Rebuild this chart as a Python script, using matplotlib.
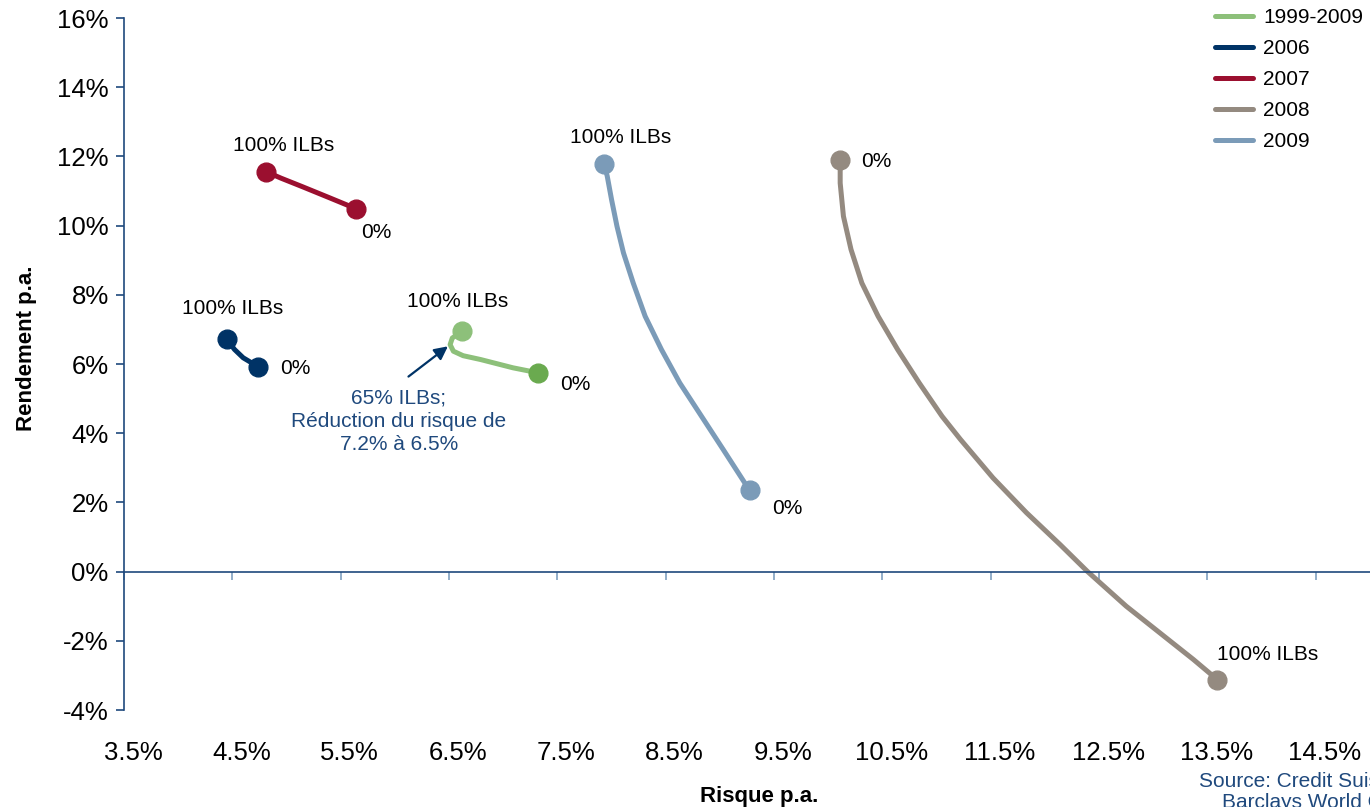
import matplotlib.pyplot as plt
from matplotlib import transforms

plt.rcParams['font.family'] = ['Liberation Sans', 'DejaVu Sans']

# risk / return (% p.a.) along each frontier, from 100% ILBs down to 0% ILBs
labels = ['1999-2009', '2006', '2007', '2008', '2009']

risk_9909 = [6.62, 6.53, 6.51, 6.54, 6.63, 6.79, 6.94, 7.09, 7.25, 7.32]
ret_9909 = [6.95, 6.75, 6.56, 6.37, 6.24, 6.13, 6.01, 5.89, 5.79, 5.74]

risk_2006 = [4.45, 4.52, 4.60, 4.68, 4.74]
ret_2006 = [6.71, 6.42, 6.18, 6.03, 5.90]

risk_2007 = [4.81, 4.95, 5.15, 5.40, 5.64]
ret_2007 = [11.56, 11.37, 11.12, 10.80, 10.49]

risk_2008 = [13.59, 13.37, 13.06, 12.75, 12.39, 12.14, 11.83, 11.52, 11.22, 11.05,
             10.84, 10.64, 10.46, 10.31, 10.21, 10.14, 10.11, 10.11]
ret_2008 = [-3.12, -2.54, -1.77, -1.00, 0.01, 0.78, 1.70, 2.71, 3.82, 4.49,
            5.45, 6.42, 7.38, 8.34, 9.31, 10.27, 11.23, 11.89]

risk_2009 = [7.93, 7.96, 8.00, 8.05, 8.11, 8.20, 8.31, 8.46, 8.63, 8.83, 9.03, 9.23, 9.28]
ret_2009 = [11.79, 11.43, 10.75, 9.98, 9.21, 8.34, 7.38, 6.42, 5.45, 4.49, 3.53, 2.56, 2.35]

x_ticks = [3.5, 4.5, 5.5, 6.5, 7.5, 8.5, 9.5, 10.5, 11.5, 12.5, 13.5, 14.5]
y_ticks = [-4, -2, 0, 2, 4, 6, 8, 10, 12, 14, 16]

navy = '#1f497d'
series = [
    (risk_9909, ret_9909, '#8dc07a', '#8dc07a', '#6aaa4f'),
    (risk_2006, ret_2006, '#003366', '#003366', '#003366'),
    (risk_2007, ret_2007, '#9b0f2f', '#9b0f2f', '#9b0f2f'),
    (risk_2008, ret_2008, '#948a80', '#948a80', '#948a80'),
    (risk_2009, ret_2009, '#7b9bb8', '#7b9bb8', '#7b9bb8'),
]
# label offsets in points: (100% ILBs end, 0% end)
offsets = [
    ((-3, 21, 'center'), (16, -8, 'left')),
    ((4, 22, 'center'), (16, -1, 'left')),
    ((13, 19, 'center'), (4, -17, 'left')),
    ((0, 18, 'left'), (15, -1, 'left')),
    ((12, 19, 'center'), (16, -13, 'left')),
]

fig = plt.figure(figsize=(13.7, 8.07), dpi=100)
ax = fig.add_axes([124 / 1370, 97 / 807, 1246 / 1370, 692 / 807])

for (xs, ys, col, c_start, c_end), name, (o100, o0) in zip(series, labels, offsets):
    ax.plot(xs, ys, color=col, lw=3.6, solid_capstyle='round', solid_joinstyle='round',
            label=name, zorder=2)
    ax.plot(xs[0], ys[0], 'o', color=c_start, ms=13.5, zorder=3)
    ax.plot(xs[-1], ys[-1], 'o', color=c_end, ms=13.5, zorder=3)
    ax.annotate('100% ILBs', (xs[0], ys[0]), xytext=o100[:2], textcoords='offset points',
                ha=o100[2], va='center', fontsize=15)
    ax.annotate('0%', (xs[-1], ys[-1]), xytext=o0[:2], textcoords='offset points',
                ha=o0[2], va='center', fontsize=15)

# arrow to the minimum-risk mix on the long-run frontier
ax.annotate('', xy=(risk_9909[2], ret_9909[2]), xytext=(-30, -23), textcoords='offset points',
            arrowprops=dict(arrowstyle='-|>', color='#003366', lw=1.6, mutation_scale=20,
                            shrinkA=0, shrinkB=2))
ax.annotate('65% ILBs;\nRéduction du risque de\n7.2% à 6.5%', (risk_9909[2], ret_9909[2]),
            xytext=(-37, -55), textcoords='offset points', ha='center', va='center',
            fontsize=15, color=navy, linespacing=1.3)

ax.set_xlim(3.5, 15.0)
ax.set_ylim(-4, 16)

for s in ['top', 'right']:
    ax.spines[s].set_visible(False)
ax.spines['left'].set_color(navy)
ax.spines['left'].set_linewidth(1.2)
ax.spines['bottom'].set_position(('data', 0))
ax.spines['bottom'].set_color(navy)
ax.spines['bottom'].set_linewidth(1.2)

ax.set_yticks(y_ticks, [f'{v}%' for v in y_ticks])
ax.tick_params(axis='y', direction='out', length=6, width=1.2, color=navy, pad=5, labelsize=18.5)
ax.set_xticks(x_ticks)
ax.tick_params(axis='x', direction='out', length=6, width=1.2, color='#7f9fbf', labelbottom=False)

# x tick labels sit along the bottom of the plot area
secax = ax.secondary_xaxis(0)
secax.spines['bottom'].set_visible(False)
secax.set_xticks(x_ticks, [f'{v:.1f}%' for v in x_ticks])
secax.tick_params(length=0, pad=22, labelsize=18.5)
shift = transforms.ScaledTranslation(0.09, 0, fig.dpi_scale_trans)
for lbl in secax.get_xticklabels():
    lbl.set_transform(lbl.get_transform() + shift)

ax.set_xlabel('Risque p.a.', fontsize=16, fontweight='bold')
ax.xaxis.set_label_coords(0.5096, -0.110)
ax.set_ylabel('Rendement p.a.', fontsize=16, fontweight='bold')
ax.yaxis.set_label_coords(-0.070, 0.523)

ax.legend(loc='upper left', bbox_to_anchor=(1215 / 1370, 1 - 8 / 807),
          bbox_transform=fig.transFigure, frameon=False, fontsize=15,
          handlelength=1.8, handletextpad=0.5, labelspacing=0.58,
          borderpad=0, borderaxespad=0)

fig.text(1199 / 1370, 1 - 781 / 807, 'Source: Credit Suisse,', color=navy, fontsize=15,
         ha='left', va='center')
fig.text(1222 / 1370, 1 - 803 / 807, 'Barclays World Government', color=navy, fontsize=15,
         ha='left', va='center')

fig.savefig('out.png', dpi=100)
